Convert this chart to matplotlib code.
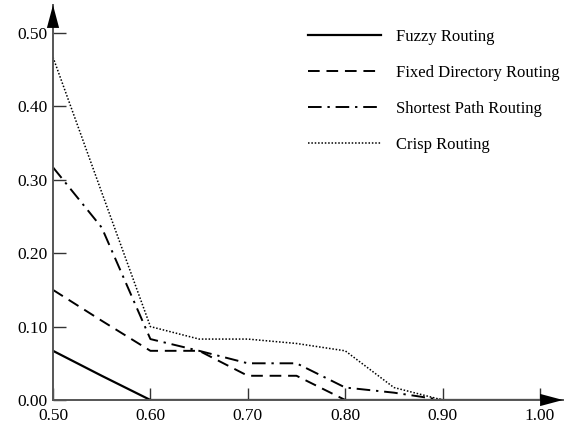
import matplotlib.pyplot as plt

plt.rcParams['font.family'] = ['Liberation Serif', 'DejaVu Serif']

# Dados
x = [0.50, 0.55, 0.60, 0.65, 0.70, 0.75, 0.80, 0.85, 0.90, 0.95, 1.00]
fuzzy = [0.067, 0.033, 0.0, 0.0, 0.0, 0.0, 0.0, 0.0, 0.0, 0.0, 0.0]
fixo = [0.150, 0.108, 0.067, 0.067, 0.033, 0.033, 0.0, 0.0, 0.0, 0.0, 0.0]
menor = [0.317, 0.235, 0.083, 0.067, 0.050, 0.050, 0.017, 0.010, 0.0, 0.0, 0.0]
crisp = [0.467, 0.283, 0.100, 0.083, 0.083, 0.077, 0.067, 0.017, 0.0, 0.0, 0.0]

rotulos = ['Fuzzy Routing', 'Fixed Directory Routing',
           'Shortest Path Routing', 'Crisp Routing']
xticks = [0.5, 0.6, 0.7, 0.8, 0.9, 1.0]
yticks = [0.0, 0.1, 0.2, 0.3, 0.4, 0.5]

figura = plt.figure(figsize=(5.69, 4.23), dpi=100)
eixo = figura.add_axes([53 / 569, 1 - 400 / 423, 510 / 569, 395 / 423])

eixo.plot(x, fuzzy, color='black', lw=1.6, ls='-', label=rotulos[0])
eixo.plot(x, fixo, color='black', lw=1.4, dashes=(6, 3.5), label=rotulos[1])
eixo.plot(x, menor, color='black', lw=1.4, dashes=(7, 3, 1.2, 3), label=rotulos[2])
eixo.plot(x, crisp, color='black', lw=1.1, dashes=(1, 1.2), label=rotulos[3])

eixo.set_xlim(0.5, 0.5 + 510 / 974)
eixo.set_ylim(0, 395 / 734)

eixo.set_xticks(xticks)
eixo.set_yticks(yticks)
eixo.set_xticklabels(['%.2f' % v for v in xticks])
eixo.set_yticklabels(['%.2f' % v for v in yticks])
eixo.tick_params(direction='in', length=9, width=1.0, labelsize=12.5,
                 colors='#333333', labelcolor='black')
eixo.tick_params(axis='y', pad=4)
eixo.tick_params(axis='x', pad=6)

for lado in ['top', 'right']:
    eixo.spines[lado].set_visible(False)
for lado in ['left', 'bottom']:
    eixo.spines[lado].set_color('#555555')
    eixo.spines[lado].set_linewidth(1.4)

# Setas nas pontas dos eixos
estilo = dict(arrowstyle='-|>,head_length=1.5,head_width=0.4',
              mutation_scale=11, color='black', lw=0, shrinkA=0, shrinkB=0)
eixo.annotate('', xy=(1, 0), xytext=(0.95, 0), xycoords='axes fraction',
              arrowprops=estilo, annotation_clip=False)
eixo.annotate('', xy=(0, 1), xytext=(0, 0.95), xycoords='axes fraction',
              arrowprops=estilo, annotation_clip=False)

eixo.legend(loc='upper left', bbox_to_anchor=(308 / 569, 1 - 29 / 423),
            bbox_transform=figura.transFigure, frameon=False,
            borderpad=0, borderaxespad=0,
            handlelength=4.4, handletextpad=0.85, labelspacing=1.2,
            fontsize=12)

figura.savefig('out.png', dpi=100)
